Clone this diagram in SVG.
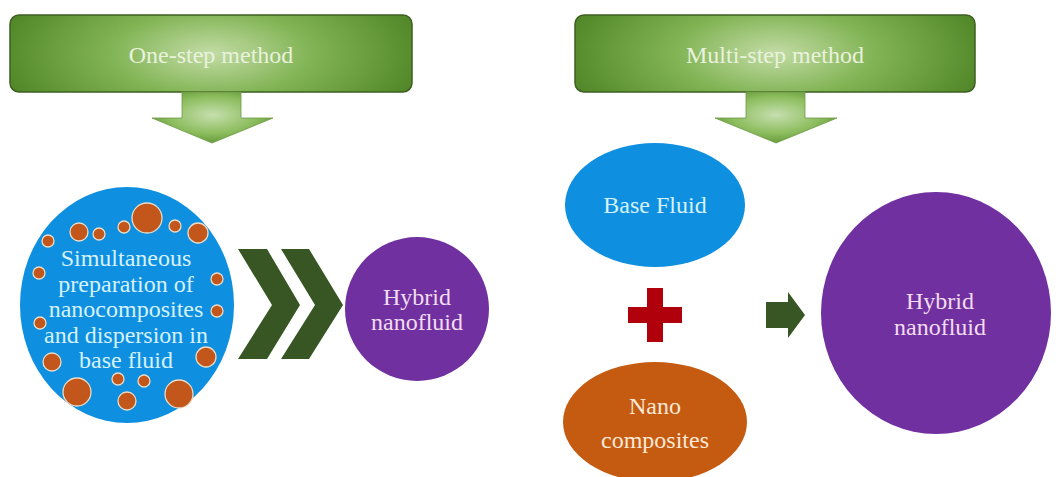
<svg xmlns="http://www.w3.org/2000/svg" width="1056" height="477" viewBox="0 0 1056 477">
<defs>
<radialGradient id="gBanner" cx="0.5" cy="0.5" r="0.55" fx="0.5" fy="0.5" gradientTransform="translate(0.5 0.5) scale(1 2.2) translate(-0.5 -0.5)">
<stop offset="0" stop-color="#c3dca6"/>
<stop offset="0.45" stop-color="#82b455"/>
<stop offset="1" stop-color="#4f8526"/>
</radialGradient>
<radialGradient id="gArrow" cx="0.5" cy="0.45" r="0.6">
<stop offset="0" stop-color="#c6dfae"/>
<stop offset="0.6" stop-color="#8cbd5e"/>
<stop offset="1" stop-color="#5c9232"/>
</radialGradient>
<style>
text{font-family:"Liberation Serif","Times New Roman",serif;font-size:24px;text-anchor:middle}
.banner{fill:url(#gBanner);stroke:#3e5f22;stroke-width:1.5}
.btxt{fill:#e9f2dc}
.darr{fill:url(#gArrow);stroke:#6e9a48;stroke-width:0.8}
.dot{fill:#c2561b;stroke:#eadcc6;stroke-width:1.3}
.blue{fill:#0e8fe0}
.purple{fill:#7030a0}
.orange{fill:#c55a11}
.ttblue{fill:#d6f2ff}
.ttpur{fill:#f2ddf2}
.ttor{fill:#fde9d6}
.chev{fill:#375623}
</style>
</defs>
<rect width="1056" height="477" fill="#ffffff"/>

<g id="one-step-method">
<rect class="banner" x="10" y="15" width="402" height="77" rx="9"/>
<text class="btxt" x="211" y="63">One-step method</text>
</g>

<g id="multi-step-method">
<rect class="banner" x="575" y="15" width="400" height="77" rx="9"/>
<text class="btxt" x="775" y="63">Multi-step method</text>
</g>

<g id="simultaneous">
<ellipse class="blue" cx="127" cy="305" rx="107" ry="118"/>
<circle class="dot" cx="147" cy="218" r="15"/>
<circle class="dot" cx="79" cy="232" r="9"/>
<circle class="dot" cx="99" cy="234" r="6"/>
<circle class="dot" cx="124" cy="227" r="6"/>
<circle class="dot" cx="175" cy="226" r="6"/>
<circle class="dot" cx="198" cy="233" r="10"/>
<circle class="dot" cx="48" cy="241" r="6"/>
<circle class="dot" cx="39" cy="273" r="6"/>
<circle class="dot" cx="217" cy="279" r="6"/>
<circle class="dot" cx="217" cy="311" r="6"/>
<circle class="dot" cx="40" cy="323" r="6"/>
<circle class="dot" cx="52" cy="362" r="9"/>
<circle class="dot" cx="206" cy="357" r="10"/>
<circle class="dot" cx="118" cy="379" r="6"/>
<circle class="dot" cx="144" cy="381" r="6"/>
<circle class="dot" cx="77" cy="392" r="14"/>
<circle class="dot" cx="179" cy="394" r="14"/>
<circle class="dot" cx="127" cy="401" r="9"/>
<text class="ttblue" x="126" y="266">Simultaneous</text>
<text class="ttblue" x="126" y="292">preparation of</text>
<text class="ttblue" x="126" y="317">nanocomposites</text>
<text class="ttblue" x="126" y="343">and dispersion in</text>
<text class="ttblue" x="126" y="368">base fluid</text>
</g>

<g id="hybrid-left">
<circle class="purple" cx="417" cy="309" r="72"/>
<text class="ttpur" x="417" y="305">Hybrid</text>
<text class="ttpur" x="417" y="330">nanofluid</text>
</g>

<g id="base-fluid">
<ellipse class="blue" cx="655" cy="205" rx="90" ry="62"/>
<text class="ttblue" x="655" y="213">Base Fluid</text>
</g>

<g id="plus">
<path d="M647 288H663V307H682V323H663V342H647V323H628V307H647Z" fill="#b0000c"/>
</g>

<g id="nano-composites">
<ellipse class="orange" cx="655" cy="422" rx="92" ry="60"/>
<text class="ttor" x="655" y="414">Nano</text>
<text class="ttor" x="655" y="448">composites</text>
</g>

<g id="hybrid-right">
<ellipse class="purple" cx="936" cy="313" rx="115" ry="121"/>
<text class="ttpur" x="940" y="309">Hybrid</text>
<text class="ttpur" x="940" y="335">nanofluid</text>
</g>

<g id="connectors">
<path class="darr" d="M182 92H241V118H273L212 143L152 118H182Z"/>
<path class="darr" d="M746 92H805V118H837L776 143L715 118H746Z"/>
<path class="chev" d="M238 249H267L300 305L267 359H238L272 305Z"/>
<path class="chev" d="M281 249H309L343 305L309 359H281L315 305Z"/>
<path class="chev" d="M766 302H788V292L805 315L788 338V328H766Z"/>
</g>
</svg>
